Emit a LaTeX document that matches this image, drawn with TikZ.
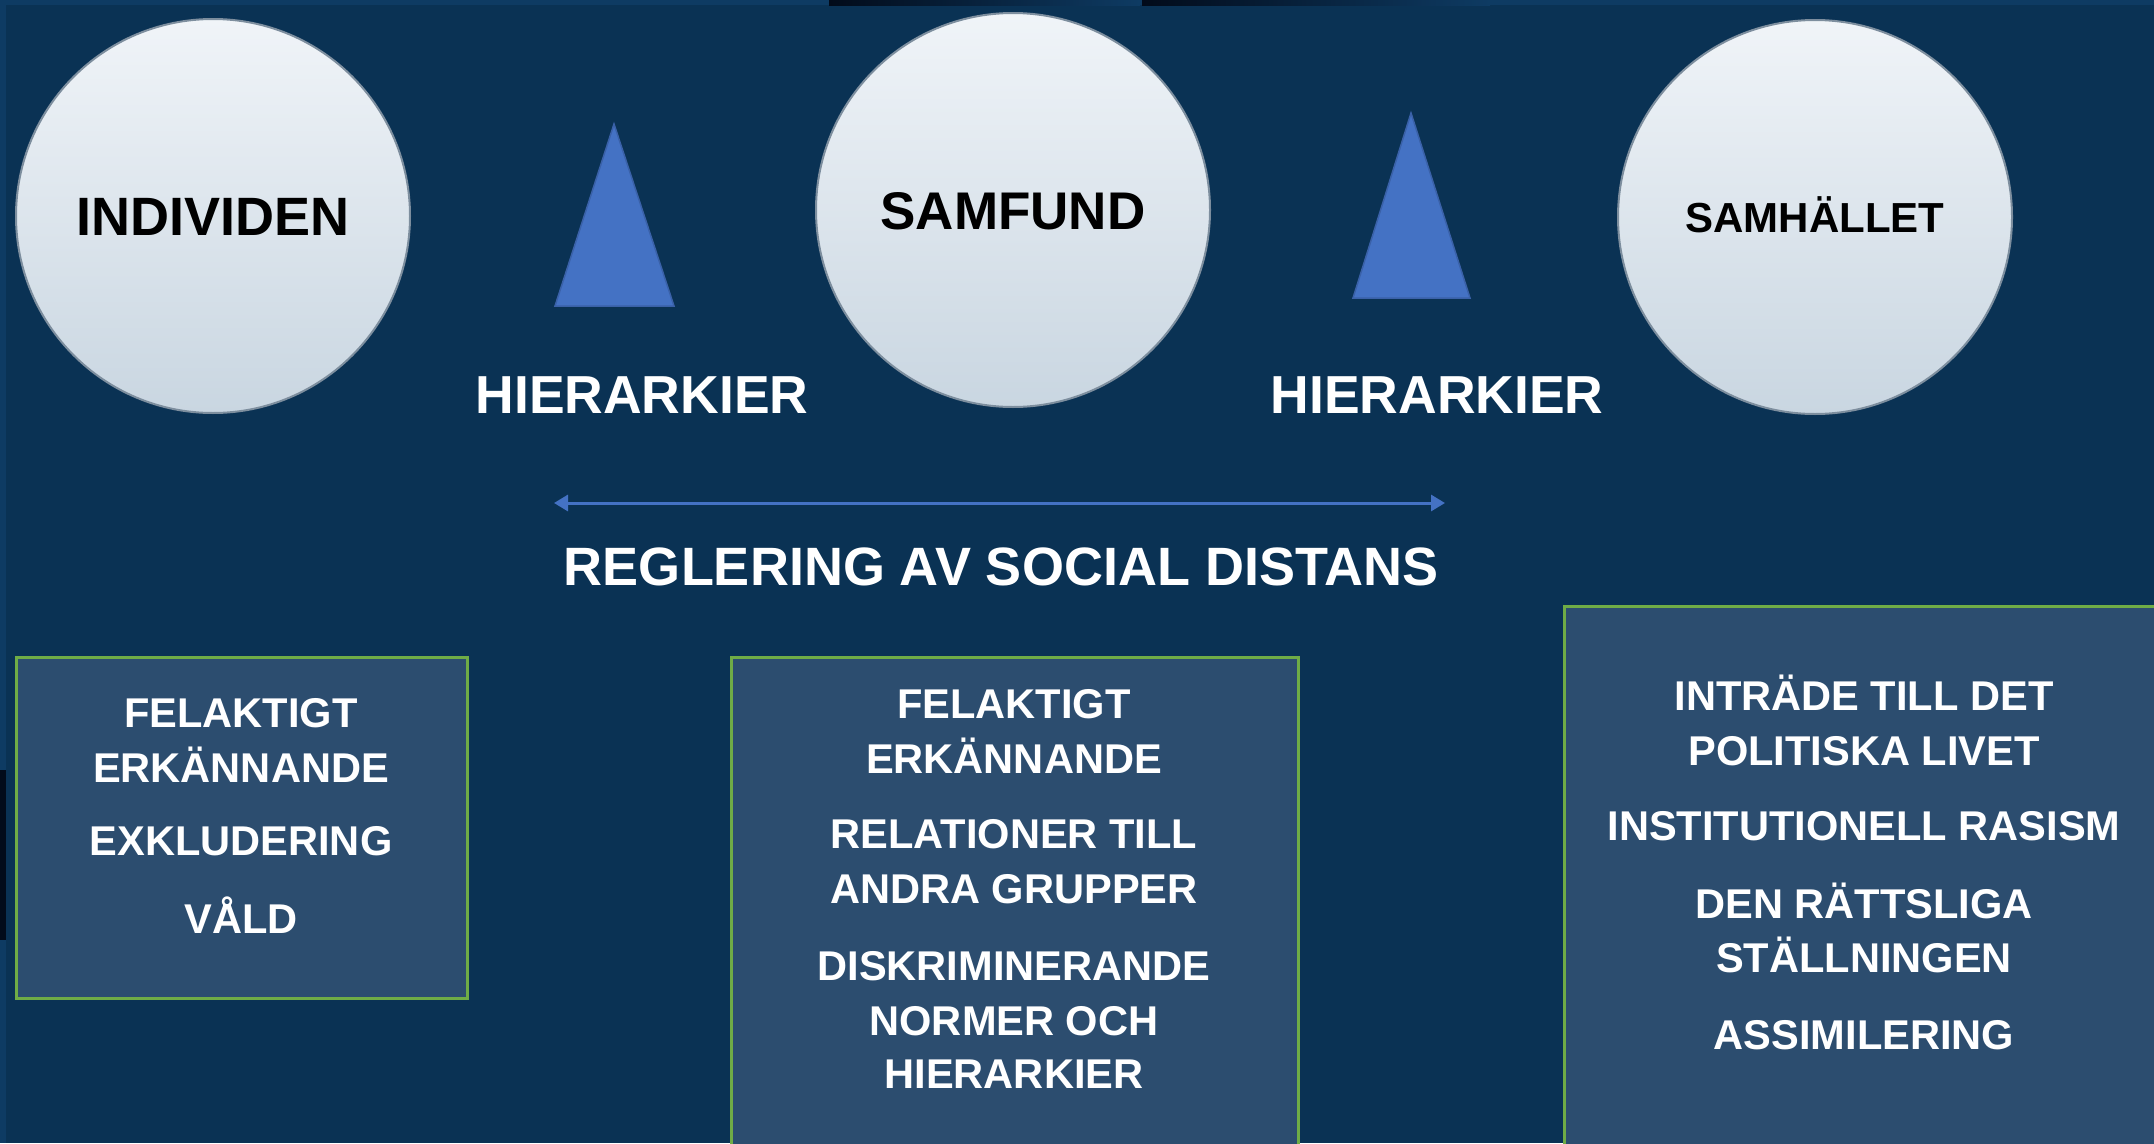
\documentclass[tikz,border=0pt]{standalone}
\usepackage{fontspec}
\setmainfont{Liberation Sans}
\usetikzlibrary{arrows.meta}
\definecolor{bg}{HTML}{0A3254}
\definecolor{strip}{HTML}{0E3B63}
\definecolor{darkedge}{HTML}{020B1A}
\definecolor{boxfill}{HTML}{2C4D6F}
\definecolor{boxline}{HTML}{6FAC46}
\definecolor{tri}{HTML}{4472C4}
\definecolor{triline}{HTML}{3A61A8}
\definecolor{circtop}{HTML}{F0F4F8}
\definecolor{circbot}{HTML}{C9D6E1}
\definecolor{circline}{HTML}{7D8E9E}
\tikzset{
  circ/.style={circle, minimum size=394pt, inner sep=0pt, draw=circline, line width=2pt,
    top color=circtop, bottom color=circbot, text=black, text depth=0pt},
  trishape/.style={fill=tri, draw=triline, line width=1.5pt, line join=miter},
  whitelbl/.style={text=white, font=\fontsize{53.5}{60}\selectfont\bfseries, inner sep=0pt},
  boxstyle/.style={rectangle, fill=boxfill, draw=boxline, line width=3pt, inner sep=0pt},
  boxtxt/.style={text=white, font=\fontsize{41.6}{49}\selectfont\bfseries, inner sep=0pt, anchor=base},
  arrowline/.style={draw=tri, line width=3pt, {Triangle[length=14pt,width=16pt]}-{Triangle[length=14pt,width=16pt]}}
}
\begin{document}
\begin{tikzpicture}[x=1pt,y=-1pt]
\useasboundingbox (0,0) rectangle (2154,1143);
\fill[bg] (0,0) rectangle (2154,1143);
% top strip
\fill[strip] (0,0) rectangle (2154,5);
\shade[left color=darkedge, right color=strip] (829,0) rectangle (1140,5);
\shade[left color=darkedge, right color=strip] (1142,0) rectangle (1490,5);
% left strip
\fill[strip] (0,5) rectangle (6,1143);
\fill[darkedge] (0,770) rectangle (6,940);

% circles
\node[circ, text height=38.7pt, font=\fontsize{54}{60}\selectfont\bfseries] (ind) at (213,216) {INDIVIDEN};
\node[circ, text height=38pt, font=\fontsize{53}{60}\selectfont\bfseries] (samf) at (1013,210) {SAMFUND};
\node[circ, text height=30pt, font=\fontsize{42}{50}\selectfont\bfseries] (samh) at (1815,217) {SAMHÄLLET};

% triangles
\draw[trishape] (614,124) -- (674,306) -- (555,306) -- cycle;
\draw[trishape] (1411,113) -- (1470,298) -- (1353,298) -- cycle;

% hierarchy labels
\node[whitelbl, anchor=base] (h1) at (642,413) {HIERARKIER};
\node[whitelbl, anchor=base] (h2) at (1437,413) {HIERARKIER};

% arrow
\coordinate (al) at (554,503);
\coordinate (ar) at (1445,503);
\draw[arrowline] (al) -- (ar);
\node[whitelbl, font=\fontsize{54}{60}\selectfont\bfseries, anchor=base] (reg) at (1001,585) {REGLERING AV SOCIAL DISTANS};

% boxes
\node[boxstyle, minimum width=451pt, minimum height=341pt] (box1) at (241.5,827.5) {};
\node[boxstyle, minimum width=567pt, minimum height=503pt] (box2) at (1014.5,908.5) {};
\node[boxstyle, minimum width=606pt, minimum height=554pt] (box3) at (1867,883) {};

% box 1 text
\node[boxtxt] (b1a) at (241,727) {FELAKTIGT};
\node[boxtxt] (b1b) at (241,782) {ERKÄNNANDE};
\node[boxtxt] (b1c) at (241,855) {EXKLUDERING};
\node[boxtxt] (b1d) at (241,933) {VÅLD};

% box 2 text
\node[boxtxt] (b2a) at (1014,718) {FELAKTIGT};
\node[boxtxt] (b2b) at (1014,773) {ERKÄNNANDE};
\node[boxtxt] (b2c) at (1014,848) {RELATIONER TILL};
\node[boxtxt] (b2d) at (1014,903) {ANDRA GRUPPER};
\node[boxtxt] (b2e) at (1014,980) {DISKRIMINERANDE};
\node[boxtxt] (b2f) at (1014,1035) {NORMER OCH};
\node[boxtxt] (b2g) at (1014,1088) {HIERARKIER};

% box 3 text
\node[boxtxt] (b3a) at (1864,710) {INTRÄDE TILL DET};
\node[boxtxt] (b3b) at (1864,765) {POLITISKA LIVET};
\node[boxtxt] (b3c) at (1864,840) {INSTITUTIONELL RASISM};
\node[boxtxt] (b3d) at (1864,918) {DEN RÄTTSLIGA};
\node[boxtxt] (b3e) at (1864,972) {STÄLLNINGEN};
\node[boxtxt] (b3f) at (1864,1049) {ASSIMILERING};
\end{tikzpicture}
\end{document}
